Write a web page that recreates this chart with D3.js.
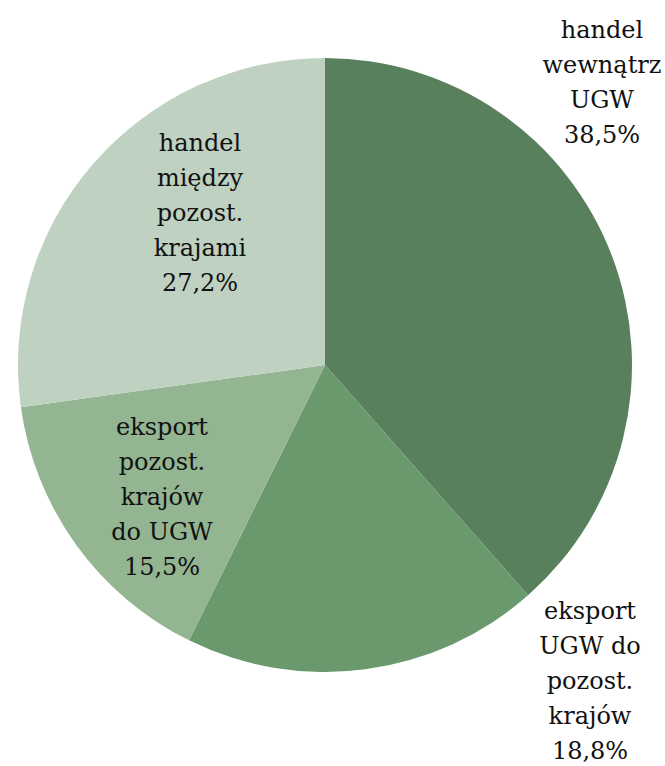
<!DOCTYPE html>
<html>
<head>
<meta charset="utf-8">
<script src="https://cdn.jsdelivr.net/npm/d3@7"></script>
<style>
  html, body { margin: 0; padding: 0; background: #fff; }
</style>
</head>
<body>
<svg id="chart" width="665" height="766"></svg>
<script>
// slices, clockwise from 12 o'clock
const categories = [
    ["handel", "wewnątrz", "UGW"],
    ["eksport", "UGW do", "pozost.", "krajów"],
    ["eksport", "pozost.", "krajów", "do UGW"],
    ["handel", "między", "pozost.", "krajami"]
];
const values = [38.5, 18.8, 15.5, 27.2];
const valueLabels = ["38,5%", "18,8%", "15,5%", "27,2%"];

const colors = ["#58805d", "#6a996e", "#93b592", "#bfd2c1"];
// label block centre, relative to pie centre
const labelOffsets = [[277, -283], [265, 316], [-163, 132], [-125, -152]];

const width = 665, height = 766;
const cx = 325, cy = 365, radius = 307;
const lineH = 35;

const svg = d3.select("#chart");
const g = svg.append("g").attr("transform", `translate(${cx},${cy})`);

const pie = d3.pie().sort(null).value(d => d);
const arc = d3.arc().innerRadius(0).outerRadius(radius);
const arcs = pie(values);

g.selectAll("path")
    .data(arcs)
    .join("path")
    .attr("d", arc)
    .attr("fill", (d, i) => colors[i]);

const labels = g.selectAll("text.lbl")
    .data(arcs)
    .join("text")
    .attr("class", "lbl")
    .attr("text-anchor", "middle")
    .style("font-family", "'DejaVu Serif', serif")
    .style("font-size", "24px")
    .attr("fill", "#111");

labels.each(function (d, i) {
    const lines = categories[i].concat([valueLabels[i]]);
    const [ox, oy] = labelOffsets[i];
    const top = oy - (lines.length - 1) * lineH / 2;
    d3.select(this).selectAll("tspan")
        .data(lines)
        .join("tspan")
        .attr("x", ox)
        .attr("y", (l, j) => top + j * lineH)
        .attr("dy", "0.35em")
        .text(l => l);
});
</script>
</body>
</html>
